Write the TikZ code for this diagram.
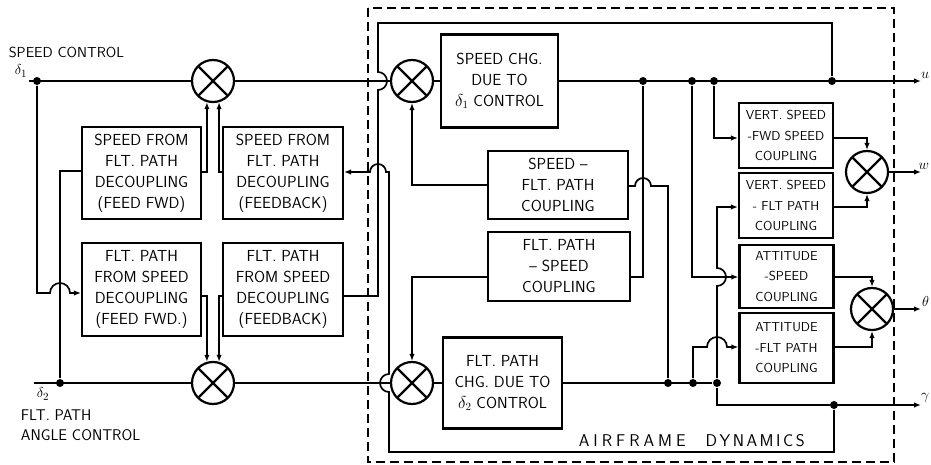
\documentclass[tikz,border=0pt]{standalone}
\usepackage{amsmath}
\usepackage{fontspec}
\usepackage{tikz}
\usetikzlibrary{arrows.meta}

\begin{document}
\begin{tikzpicture}[x=1pt,y=-1pt,line width=1.7pt,
  every node/.style={font=\sffamily\fontsize{15}{20}\selectfont},
  blk/.style={draw,line width=2.2pt,align=center,inner sep=0pt,font=\sffamily\fontsize{16}{21}\selectfont},
  sblk/.style={blk,minimum width=94,minimum height=65,font=\sffamily\fontsize{13}{20.5}\selectfont},
  sumj/.style={draw,circle,line width=2.2pt,minimum size=42,inner sep=0pt,
    path picture={\draw[line width=2.2pt] (path picture bounding box.north west) -- (path picture bounding box.south east)
      (path picture bounding box.north east) -- (path picture bounding box.south west);}},
  dot/.style={circle,fill,inner sep=0pt,minimum size=8},
  arr/.style={-{Latex[length=7pt,width=5.5pt]}}]
\useasboundingbox (0,0) rectangle (931,465);

\node[blk,minimum width=119,minimum height=92] (ffs) at (141.5,173) {SPEED FROM\\FLT. PATH\\DECOUPLING\\(FEED FWD)};
\node[blk,minimum width=120,minimum height=92] (fbs) at (283,173) {SPEED FROM\\FLT. PATH\\DECOUPLING\\(FEEDBACK)};
\node[blk,minimum width=119,minimum height=93] (ffg) at (141.5,289.5) {FLT. PATH\\FROM SPEED\\DECOUPLING\\(FEED FWD.)};
\node[blk,minimum width=120,minimum height=93] (fbg) at (283,289.5) {FLT. PATH\\FROM SPEED\\DECOUPLING\\(FEEDBACK)};
\node[blk,minimum width=117,minimum height=93] (chgs) at (499.5,81) {SPEED CHG.\\DUE TO\\$\delta_1$ CONTROL};
\node[blk,minimum width=119,minimum height=91] (chgg) at (502.5,383) {FLT. PATH\\CHG. DUE TO\\$\delta_2$ CONTROL};
\node[blk,minimum width=140,minimum height=68] (csg) at (558,185) {SPEED --\\FLT. PATH\\COUPLING};
\node[blk,minimum width=142,minimum height=69] (cgs) at (559,266.5) {FLT. PATH\\-- SPEED\\COUPLING};
\node[sblk] (vs) at (786,135.5) {VERT. SPEED\\-FWD SPEED\\COUPLING};
\node[sblk] (vg) at (786,205.5) {VERT. SPEED\\- FLT PATH\\COUPLING};
\node[sblk,minimum height=63] (as) at (786.5,276.5) {ATTITUDE\\-SPEED\\COUPLING};
\node[sblk,minimum height=70] (ag) at (786.5,348) {ATTITUDE\\-FLT PATH\\COUPLING};

\node[sumj] (s1) at (213,81) {};
\node[sumj] (s2) at (213,383) {};
\node[sumj] (s3) at (412,81) {};
\node[sumj] (s4) at (412,383) {};
\node[sumj] (sw) at (867,172) {};
\node[sumj] (st) at (872,309) {};

\node[dot] (d1) at (37,81) {};
\node[dot] (d2) at (60,383) {};
\node[dot] (du1) at (643,81) {};
\node[dot] (du2) at (692,81) {};
\node[dot] (du3) at (714,81) {};
\node[dot] (du4) at (832,81) {};
\node[dot] (dg1) at (668,383) {};
\node[dot] (dg2) at (693,383) {};
\node[dot] (dg3) at (717,383) {};
\node[dot] (dg4) at (834,405) {};
\coordinate (in1) at (29,81);
\coordinate (in2) at (34,383);
\coordinate (ou) at (921,81);
\coordinate (ow) at (921,172);
\coordinate (ot) at (921,309);
\coordinate (og) at (921,405);

\node[anchor=west,inner sep=0pt,font=\sffamily\fontsize{14.5}{18}\selectfont] (spd) at (8,52) {SPEED CONTROL};
\node[inner sep=0pt] (dl1) at (21,71) {$\delta_1$};
\node[inner sep=0pt] (dl2) at (43,394) {$\delta_2$};
\node[anchor=west,align=left,inner sep=0pt,font=\sffamily\fontsize{15.5}{20}\selectfont] (fpa) at (20,425) {FLT. PATH\\ANGLE CONTROL};
\node[anchor=south east,inner sep=1pt] at (931,80) {$u$};
\node[anchor=south east,inner sep=1pt] at (931,171) {$w$};
\node[anchor=south east,inner sep=1pt] at (931,308) {$\theta$};
\node[anchor=south east,inner sep=1pt] at (931,404) {$\gamma$};
\node[anchor=west,inner sep=0pt,font=\sffamily\fontsize{17}{20}\selectfont] (afd) at (578,441)
  {A\kern4pt I\kern4pt R\kern4pt F\kern4pt R\kern4pt A\kern4pt M\kern4pt E\hspace{20pt}D\kern2.5pt Y\kern2.5pt N\kern2.5pt A\kern2.5pt M\kern2.5pt I\kern2.5pt C\kern2.5pt S};

\draw[dashed,line width=1.8pt,dash pattern=on 9pt off 5pt] (368,8) rectangle (894,462);

\draw (in1) -- (s1.west);
\draw (in2) -- (s2.west);
\draw[arr] (d1) -- (37,293) -- (50,293) arc[start angle=180,end angle=360,radius=10] -- (ffg.west |- 0,293);
\draw (d2) -- (60,171) -- (ffs.west |- 0,171);
\draw[arr] (ffs.east |- 0,172) -| (s1.-106);
\draw[arr] (fbs.west |- 0,172) -| (s1.-74);
\draw[arr] (ffg.east |- 0,296) -| (s2.106);
\draw[arr] (fbg.west |- 0,296) -| (s2.74);
\draw (s1.east) -- (s3.west);
\draw (s2.east) -- (s4.west);
\draw (s3.east) -- (chgs.west);
\draw (s4.east) -- (chgg.west);
\draw[arr] (chgs.east) -- (ou);
\draw (chgg.east) -- (dg3);
\draw[arr] (dg3) |- (og);

\draw (du1) |- (cgs.east |- 0,277);
\draw[arr] (cgs.west |- 0,277) -| (s4.north);
\draw[arr] (csg.west) -| (s3.south);
\draw (dg1) -- (668,186) -- (651,186) arc[start angle=0,end angle=-180,radius=8] -- (csg.east |- 0,186);

\draw[arr] (du3) |- (vs.west |- 0,138);
\draw[arr] (du2) |- (as.west |- 0,277);
\draw[arr] (dg3) -- (717,286) arc[start angle=90,end angle=-90,radius=9] -- (717,207) -- (vg.west |- 0,207);
\draw[arr] (dg2) -- (693,347) -- (707,347) arc[start angle=180,end angle=360,radius=10] -- (ag.west |- 0,347);
\draw[arr] (vs.east |- 0,138) -| (sw.north);
\draw[arr] (vg.east |- 0,207) -| (sw.south);
\draw[arr] (as.east |- 0,277) -| (st.north);
\draw[arr] (ag.east |- 0,347) -| (st.south);
\draw[arr] (sw.east) -- (ow);
\draw[arr] (st.east) -- (ot);

\draw (du4) -- (832,23) -- (378,23) -- (378,72) arc[start angle=-90,end angle=90,radius=9] -- (378,296) -- (fbg.east |- 0,296);
\draw[arr] (dg4) -- (834,452) -- (389,452) -- (389,392) arc[start angle=90,end angle=270,radius=9]
  -- (389,172) -- (386,172) arc[start angle=0,end angle=-180,radius=8] -- (fbs.east |- 0,172);
\end{tikzpicture}
\end{document}
